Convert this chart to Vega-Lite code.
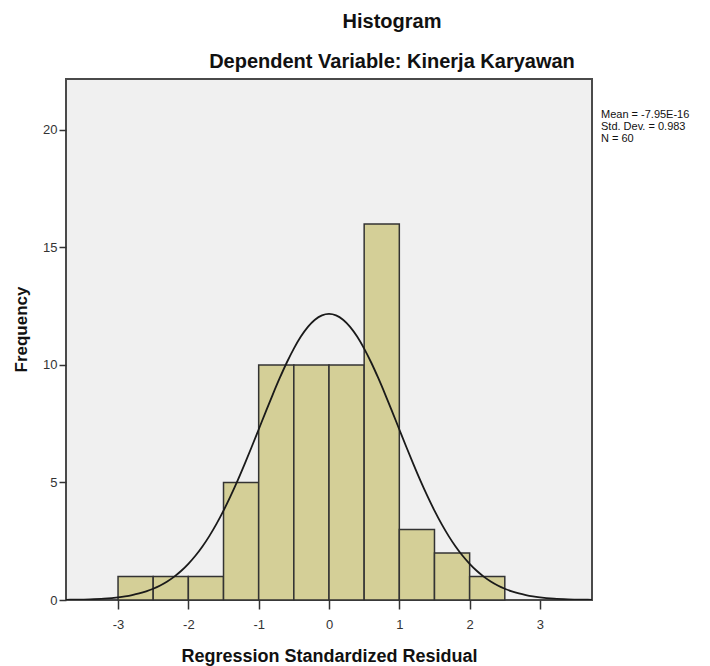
{
  "$schema": "https://vega.github.io/schema/vega-lite/v6.json",
  "width": 526,
  "height": 521,
  "autosize": "none",
  "padding": {"left": 66, "top": 79, "right": 118, "bottom": 66},
  "background": "white",
  "view": {"fill": "#F0F0F0", "stroke": "#4a4a4a", "strokeWidth": 2},
  "title": {
    "text": "Histogram",
    "subtitle": "Dependent Variable: Kinerja Karyawan",
    "anchor": "middle",
    "dx": 63,
    "offset": 7,
    "font": "Liberation Sans",
    "fontSize": 20,
    "fontWeight": "bold",
    "color": "#111111",
    "subtitleFont": "Liberation Sans",
    "subtitleFontSize": 20,
    "subtitleFontWeight": "bold",
    "subtitleColor": "#111111",
    "subtitlePadding": 20
  },
  "config": {
    "view": {"fill": "#F0F0F0", "stroke": "#4a4a4a", "strokeWidth": 2},
    "axis": {
      "labelFont": "Liberation Sans",
      "labelFontSize": 13,
      "labelColor": "#333333",
      "titleFont": "Liberation Sans",
      "titleFontWeight": "bold",
      "titleColor": "#111111",
      "grid": false,
      "domain": false,
      "tickColor": "#333333",
      "tickWidth": 1.5
    },
    "legend": {
      "labelFont": "Liberation Sans",
      "labelFontSize": 11,
      "labelColor": "#111111"
    }
  },
  "datasets": {
    "bins": [
      {"bin_start": -3.0, "bin_end": -2.5, "count": 1},
      {"bin_start": -2.5, "bin_end": -2.0, "count": 1},
      {"bin_start": -2.0, "bin_end": -1.5, "count": 1},
      {"bin_start": -1.5, "bin_end": -1.0, "count": 5},
      {"bin_start": -1.0, "bin_end": -0.5, "count": 10},
      {"bin_start": -0.5, "bin_end": 0.0, "count": 10},
      {"bin_start": 0.0, "bin_end": 0.5, "count": 10},
      {"bin_start": 0.5, "bin_end": 1.0, "count": 16},
      {"bin_start": 1.0, "bin_end": 1.5, "count": 3},
      {"bin_start": 1.5, "bin_end": 2.0, "count": 2},
      {"bin_start": 2.0, "bin_end": 2.5, "count": 1}
    ],
    "curve": [
      {"x": -3.74, "y": 0.0087}, {"x": -3.6, "y": 0.0149}, {"x": -3.4, "y": 0.0307}, {"x": -3.2, "y": 0.0608},
      {"x": -3.0, "y": 0.1156}, {"x": -2.9, "y": 0.1569}, {"x": -2.8, "y": 0.2107}, {"x": -2.7, "y": 0.2801},
      {"x": -2.6, "y": 0.3686}, {"x": -2.5, "y": 0.480}, {"x": -2.4, "y": 0.618}, {"x": -2.3, "y": 0.788},
      {"x": -2.2, "y": 0.995}, {"x": -2.1, "y": 1.243}, {"x": -2.0, "y": 1.537}, {"x": -1.9, "y": 1.881},
      {"x": -1.8, "y": 2.277}, {"x": -1.7, "y": 2.729}, {"x": -1.6, "y": 3.237}, {"x": -1.5, "y": 3.801},
      {"x": -1.4, "y": 4.416}, {"x": -1.3, "y": 5.078}, {"x": -1.2, "y": 5.780}, {"x": -1.1, "y": 6.510},
      {"x": -1.0, "y": 7.257}, {"x": -0.9, "y": 8.007}, {"x": -0.8, "y": 8.743}, {"x": -0.7, "y": 9.448},
      {"x": -0.6, "y": 10.106}, {"x": -0.5, "y": 10.698}, {"x": -0.4, "y": 11.208}, {"x": -0.3, "y": 11.621},
      {"x": -0.2, "y": 11.926}, {"x": -0.1, "y": 12.113}, {"x": 0.0, "y": 12.175}, {"x": 0.1, "y": 12.113},
      {"x": 0.2, "y": 11.926}, {"x": 0.3, "y": 11.621}, {"x": 0.4, "y": 11.208}, {"x": 0.5, "y": 10.698},
      {"x": 0.6, "y": 10.106}, {"x": 0.7, "y": 9.448}, {"x": 0.8, "y": 8.743}, {"x": 0.9, "y": 8.007},
      {"x": 1.0, "y": 7.257}, {"x": 1.1, "y": 6.510}, {"x": 1.2, "y": 5.780}, {"x": 1.3, "y": 5.078},
      {"x": 1.4, "y": 4.416}, {"x": 1.5, "y": 3.801}, {"x": 1.6, "y": 3.237}, {"x": 1.7, "y": 2.729},
      {"x": 1.8, "y": 2.277}, {"x": 1.9, "y": 1.881}, {"x": 2.0, "y": 1.537}, {"x": 2.1, "y": 1.243},
      {"x": 2.2, "y": 0.995}, {"x": 2.3, "y": 0.788}, {"x": 2.4, "y": 0.618}, {"x": 2.5, "y": 0.480},
      {"x": 2.6, "y": 0.3686}, {"x": 2.7, "y": 0.2801}, {"x": 2.8, "y": 0.2107}, {"x": 2.9, "y": 0.1569},
      {"x": 3.0, "y": 0.1156}, {"x": 3.2, "y": 0.0608}, {"x": 3.4, "y": 0.0307}, {"x": 3.6, "y": 0.0149},
      {"x": 3.74, "y": 0.0087}
    ],
    "stats": [
      {"stat": "Mean = -7.95E-16"},
      {"stat": "Std. Dev. = 0.983"},
      {"stat": "N = 60"}
    ]
  },
  "layer": [
    {
      "data": {"name": "bins"},
      "mark": {"type": "bar", "fill": "#D4CF97", "stroke": "#333333", "strokeWidth": 1.5},
      "encoding": {
        "x": {
          "field": "bin_start", "type": "quantitative",
          "scale": {"domain": [-3.74, 3.74], "nice": false, "zero": false},
          "axis": {
            "title": "Regression Standardized Residual",
            "titleFontSize": 18,
            "titlePadding": 16,
            "values": [-3, -2, -1, 0, 1, 2, 3],
            "labelExpr": "'' + datum.value",
            "tickSize": 9,
            "labelPadding": 9
          }
        },
        "x2": {"field": "bin_end"},
        "y": {
          "field": "count", "type": "quantitative",
          "scale": {"domain": [0, 22.17], "nice": false},
          "axis": {
            "title": "Frequency",
            "titleFontSize": 17,
            "titlePadding": 12,
            "titleY": 250,
            "values": [0, 5, 10, 15, 20],
            "tickSize": 7,
            "labelPadding": 2
          }
        },
        "y2": {"datum": 0}
      }
    },
    {
      "data": {"name": "curve"},
      "mark": {"type": "line", "color": "#1a1a1a", "strokeWidth": 1.8, "interpolate": "monotone", "clip": true},
      "encoding": {
        "x": {"field": "x", "type": "quantitative"},
        "y": {"field": "y", "type": "quantitative"}
      }
    },
    {
      "data": {"name": "stats"},
      "mark": {"type": "point", "opacity": 0},
      "encoding": {
        "color": {
          "field": "stat", "type": "nominal",
          "sort": ["Mean = -7.95E-16", "Std. Dev. = 0.983", "N = 60"],
          "scale": {"range": ["#000000", "#000000", "#000000"]},
          "legend": {
            "title": null,
            "orient": "none",
            "legendX": 524,
            "legendY": 30,
            "padding": 0,
            "symbolSize": 0,
            "symbolOpacity": 0,
            "symbolStrokeWidth": 0,
            "labelOffset": 0,
            "rowPadding": 0,
            "labelLimit": 200
          }
        }
      }
    }
  ]
}
